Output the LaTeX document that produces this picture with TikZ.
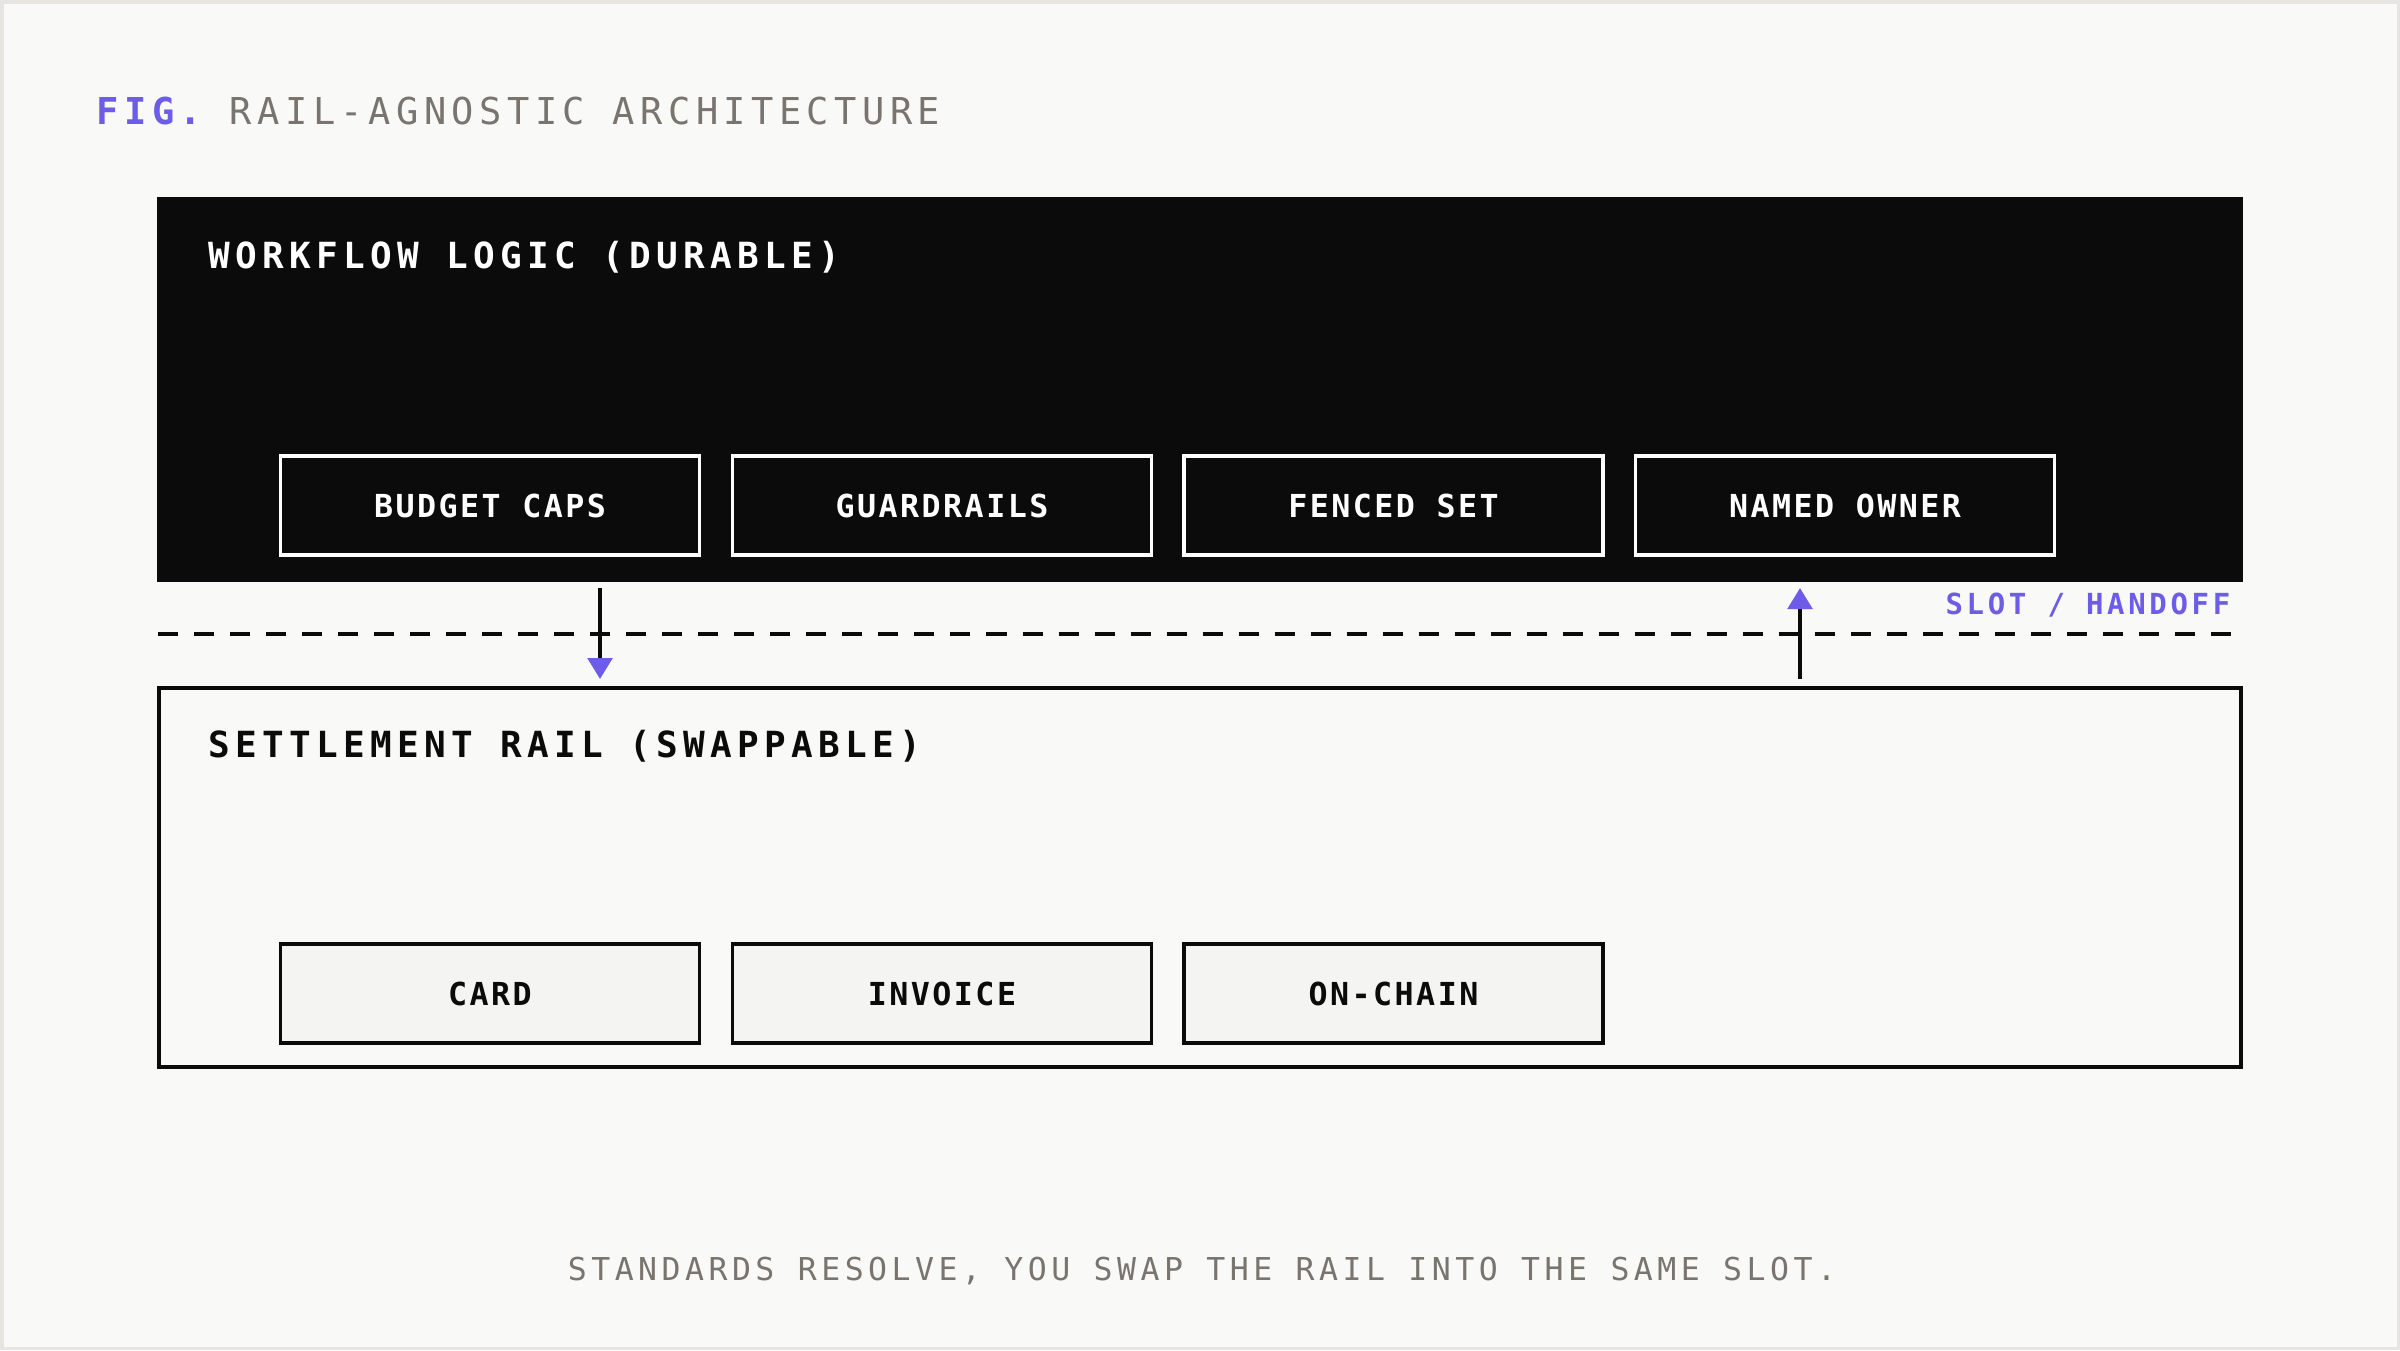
\documentclass[tikz,border=0pt]{standalone}
\usepackage{fontspec}
\usetikzlibrary{arrows.meta}
\newfontfamily\monoT[LetterSpace=14.7]{DejaVu Sans Mono}
\newfontfamily\monoL[LetterSpace=7.8]{DejaVu Sans Mono}
\newfontfamily\monoC[LetterSpace=14.2]{DejaVu Sans Mono}
\newfontfamily\monoS[LetterSpace=12.6]{DejaVu Sans Mono}
\definecolor{bgc}{HTML}{F9F9F7}
\definecolor{framec}{HTML}{E6E5E2}
\definecolor{ink}{HTML}{0B0B0B}
\definecolor{accent}{HTML}{6C5CE7}
\definecolor{muted}{HTML}{7A746E}
\definecolor{boxfill}{HTML}{F4F4F2}
\tikzset{
  workbox/.style={rectangle, fill=ink, inner sep=0, minimum width=20.84cm, minimum height=3.85cm},
  railbox/.style={rectangle, draw=ink, line width=0.04cm, inner sep=0, minimum width=20.80cm, minimum height=3.79cm},
  lblbase/.style={rectangle, line width=0.035cm, minimum width=4.19cm, minimum height=0.986cm, inner sep=0,
    font=\monoL\bfseries\fontsize{9pt}{10pt}\selectfont},
  toplbl/.style={lblbase, draw=white, fill=ink, text=white},
  botlbl/.style={lblbase, draw=ink, fill=boxfill, text=ink},
  ttl/.style={anchor=base west, inner sep=0, font=\monoT\bfseries\fontsize{10.24pt}{12pt}\selectfont},
  flow/.style={line width=0.04cm, draw=ink, -{Triangle[length=0.21cm,width=0.245cm,color=accent]}},
  slotline/.style={line width=0.033cm, draw=ink, dash pattern=on 0.2cm off 0.16cm},
}
\begin{document}
\begin{tikzpicture}[x=0.01cm,y=-0.01cm]
\useasboundingbox (0,0) rectangle (2400,1350);
\fill[framec] (0,0) rectangle (2400,1350);
\fill[bgc] (3.5,3.5) rectangle (2396.5,1346.5);

% title
\node[anchor=base west, inner sep=0, font=\monoT\fontsize{10.53pt}{12pt}\selectfont] (fig) at (96,124)
  {\textcolor{accent}{\bfseries FIG.} \textcolor{muted}{RAIL-AGNOSTIC ARCHITECTURE}};

% panels
\node[workbox] (work) at (1200,389.5) {};
\node[railbox] (rail) at (1200,877.5) {};
\node[ttl, text=white] (worktitle) at (208,268) {WORKFLOW LOGIC (DURABLE)};
\node[ttl, text=ink] (railtitle) at (208,757) {SETTLEMENT RAIL (SWAPPABLE)};

% workflow items
\node[toplbl] (budget) at (490,505.5) {BUDGET CAPS};
\node[toplbl] (guard) at (942,505.5) {GUARDRAILS};
\node[toplbl] (fenced) at (1393.5,505.5) {FENCED SET};
\node[toplbl] (owner) at (1845,505.5) {NAMED OWNER};

% rail items
\node[botlbl] (card) at (490,993.5) {CARD};
\node[botlbl] (invoice) at (942,993.5) {INVOICE};
\node[botlbl] (onchain) at (1393.5,993.5) {ON-CHAIN};

% slot line
\coordinate (dl) at (158,634);
\coordinate (dr) at (2233,634);
\draw[slotline] (dl) -- (dr);
\node[anchor=base east, inner sep=0, text=accent, font=\monoS\bfseries\fontsize{8.25pt}{10pt}\selectfont] (slot) at (2231,614) {SLOT / HANDOFF};

% arrows
\coordinate (dn1) at (600,588);
\coordinate (dn2) at (600,679);
\draw[flow] (dn1) -- (dn2);
\coordinate (up1) at (1800,679);
\coordinate (up2) at (1800,588);
\draw[flow] (up1) -- (up2);

% caption
\node[anchor=base, inner sep=0, text=muted, font=\monoC\fontsize{8.96pt}{10pt}\selectfont] (caption) at (1202,1280)
  {STANDARDS RESOLVE, YOU SWAP THE RAIL INTO THE SAME SLOT.};
\end{tikzpicture}
\end{document}
